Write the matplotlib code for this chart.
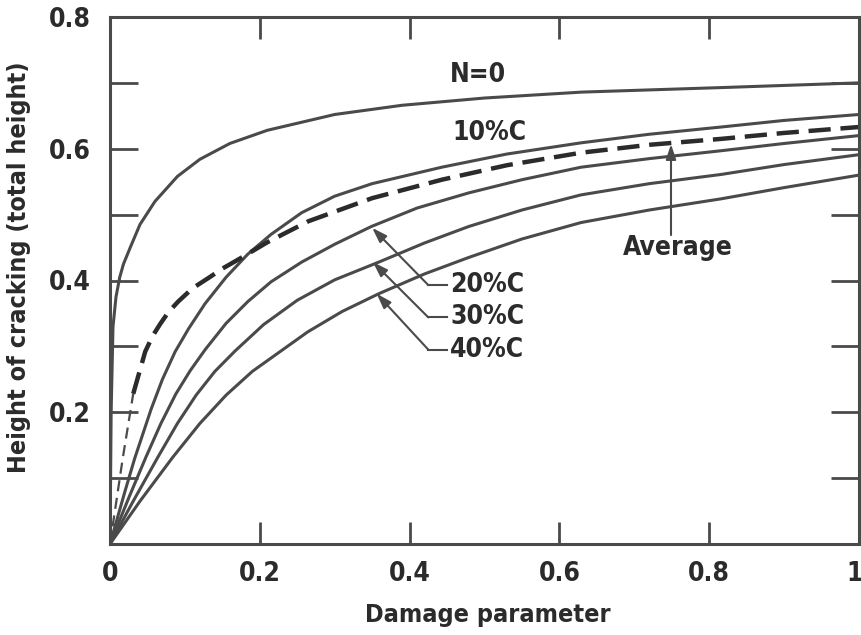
import matplotlib
matplotlib.use("Agg")
import matplotlib.pyplot as plt
import matplotlib.transforms as mtransforms
from matplotlib.ticker import FixedLocator
from matplotlib.font_manager import FontProperties

# ---------------- data ----------------
n0_x = [0, 0.0015, 0.004, 0.008, 0.013, 0.018, 0.027, 0.04, 0.06, 0.09, 0.12, 0.16,
        0.21, 0.30, 0.39, 0.50, 0.63, 0.82, 1.0]
n0_y = [0, 0.20, 0.33, 0.375, 0.405, 0.425, 0.45, 0.485, 0.52, 0.558, 0.584, 0.608,
        0.628, 0.652, 0.666, 0.677, 0.686, 0.693, 0.70]

c10_x = [0, 0.02, 0.033, 0.055, 0.07, 0.087, 0.105, 0.127, 0.155, 0.184, 0.215, 0.256,
         0.30, 0.35, 0.443, 0.53, 0.629, 0.72, 0.816, 0.9, 1.0]
c10_y = [0, 0.08, 0.13, 0.205, 0.25, 0.292, 0.327, 0.365, 0.405, 0.44, 0.47, 0.503,
         0.528, 0.547, 0.572, 0.592, 0.609, 0.622, 0.633, 0.643, 0.652]

avg_x = [0, 0.017, 0.031, 0.047, 0.057, 0.067, 0.078, 0.091, 0.11, 0.133, 0.15, 0.173,
         0.21, 0.265, 0.35, 0.443, 0.53, 0.629, 0.72, 0.816, 0.9, 1.0]
avg_y = [0, 0.13, 0.228, 0.292, 0.316, 0.334, 0.352, 0.368, 0.388, 0.405, 0.418, 0.433,
         0.458, 0.49, 0.525, 0.553, 0.575, 0.594, 0.606, 0.615, 0.624, 0.633]

c20_x = [0, 0.025, 0.048, 0.068, 0.088, 0.107, 0.127, 0.155, 0.184, 0.215, 0.256, 0.30,
         0.349, 0.41, 0.479, 0.55, 0.629, 0.72, 0.816, 0.9, 1.0]
c20_y = [0, 0.07, 0.132, 0.183, 0.228, 0.263, 0.295, 0.335, 0.368, 0.398, 0.428, 0.455,
         0.482, 0.51, 0.533, 0.553, 0.572, 0.585, 0.597, 0.608, 0.62]

c30_x = [0, 0.03, 0.064, 0.09, 0.115, 0.14, 0.167, 0.205, 0.25, 0.30, 0.359, 0.42,
         0.479, 0.55, 0.629, 0.72, 0.816, 0.9, 1.0]
c30_y = [0, 0.063, 0.132, 0.183, 0.226, 0.262, 0.293, 0.333, 0.37, 0.401, 0.428, 0.457,
         0.482, 0.507, 0.53, 0.547, 0.561, 0.576, 0.591]

c40_x = [0, 0.04, 0.084, 0.12, 0.155, 0.19, 0.227, 0.264, 0.31, 0.359, 0.42, 0.479,
         0.55, 0.629, 0.72, 0.816, 0.9, 1.0]
c40_y = [0, 0.065, 0.132, 0.183, 0.226, 0.262, 0.292, 0.322, 0.353, 0.38, 0.41, 0.435,
         0.463, 0.488, 0.507, 0.524, 0.541, 0.56]

x_ticklabels = ["0", "0.2", "0.4", "0.6", "0.8", "1"]
y_ticklabels = ["0.2", "0.4", "0.6", "0.8"]

# ---------------- style ----------------
LINE = "#4a4a4a"
DARK = "#2b2b2b"
FONT = dict(family="DejaVu Sans", weight="bold", stretch="condensed")

fig = plt.figure(figsize=(8.62, 6.35), dpi=100)
ax = fig.add_axes([110 / 862, (635 - 544) / 635, 749 / 862, 527 / 635])
ax.set_xlim(0, 1)
ax.set_ylim(0, 0.8)

lw = 2.2
ax.plot(n0_x, n0_y, color=LINE, lw=lw)
ax.plot(c10_x, c10_y, color=LINE, lw=lw)
ax.plot(c20_x, c20_y, color=LINE, lw=lw)
ax.plot(c30_x, c30_y, color=LINE, lw=lw)
ax.plot(c40_x, c40_y, color=LINE, lw=lw)
# average: thin dashes near the origin, heavy dashes afterwards
ax.plot(avg_x[:3], avg_y[:3], color=LINE, lw=1.6, dashes=(5, 3))
ax.plot(avg_x[2:], avg_y[2:], color=DARK, lw=3.2, dashes=(5, 2.2))

# spines / ticks
for s in ax.spines.values():
    s.set_linewidth(2.2)
    s.set_color(LINE)
ax.xaxis.set_major_locator(FixedLocator([0, 0.2, 0.4, 0.6, 0.8, 1.0]))
ax.set_xticklabels(x_ticklabels)
ax.yaxis.set_major_locator(FixedLocator([0.2, 0.4, 0.6, 0.8]))
ax.set_yticklabels(y_ticklabels)
ax.yaxis.set_minor_locator(FixedLocator([0.1, 0.3, 0.5, 0.7]))
ax.tick_params(axis="both", which="both", direction="in", top=True, right=True,
               width=2.0, color=LINE)
ax.tick_params(axis="x", which="major", length=16, pad=12)
ax.tick_params(axis="y", which="both", length=20, pad=14)
for lab in ax.get_xticklabels() + ax.get_yticklabels():
    lab.set_fontproperties(FontProperties(size=19, **FONT))
    lab.set_color(DARK)
# keep the "1" label inside the canvas
last = ax.get_xticklabels()[-1]
last.set_transform(last.get_transform() +
                   mtransforms.ScaledTranslation(-4 / 100, 0, fig.dpi_scale_trans))

ax.set_xlabel("Damage parameter", fontsize=18, color=DARK, **FONT)
ax.set_ylabel("Height of cracking (total height)", fontsize=18, color=DARK, **FONT)
ax.xaxis.set_label_coords(0.505, -0.112)
ax.yaxis.set_label_coords(-0.106, 0.526)

# curve labels
tk = dict(fontsize=19, color=DARK, va="center", ha="left", **FONT)
ax.text(0.454, 0.712, "N=0", **tk)
ax.text(0.457, 0.624, "10%C", **tk)
ax.text(0.454, 0.393, "20%C", **tk)
ax.text(0.454, 0.344, "30%C", **tk)
ax.text(0.454, 0.295, "40%C", **tk)
ax.text(0.758, 0.449, "Average", fontsize=19, color=DARK, va="center", ha="center", **FONT)

arrow = dict(arrowstyle="-|>,head_length=0.9,head_width=0.3", color=LINE, lw=1.5,
             shrinkA=0, shrinkB=0)
labels_y = [0.393, 0.344, 0.295]
tips = [(0.35, 0.48), (0.351, 0.428), (0.356, 0.38)]
for ly, (tx, ty) in zip(labels_y, tips):
    ax.plot([0.425, 0.450], [ly, ly], color=LINE, lw=1.5)
    ax.annotate("", xy=(tx, ty), xytext=(0.425, ly), arrowprops=arrow)
ax.annotate("", xy=(0.749, 0.607), xytext=(0.749, 0.469), arrowprops=arrow)

fig.savefig("out.png", dpi=100)
